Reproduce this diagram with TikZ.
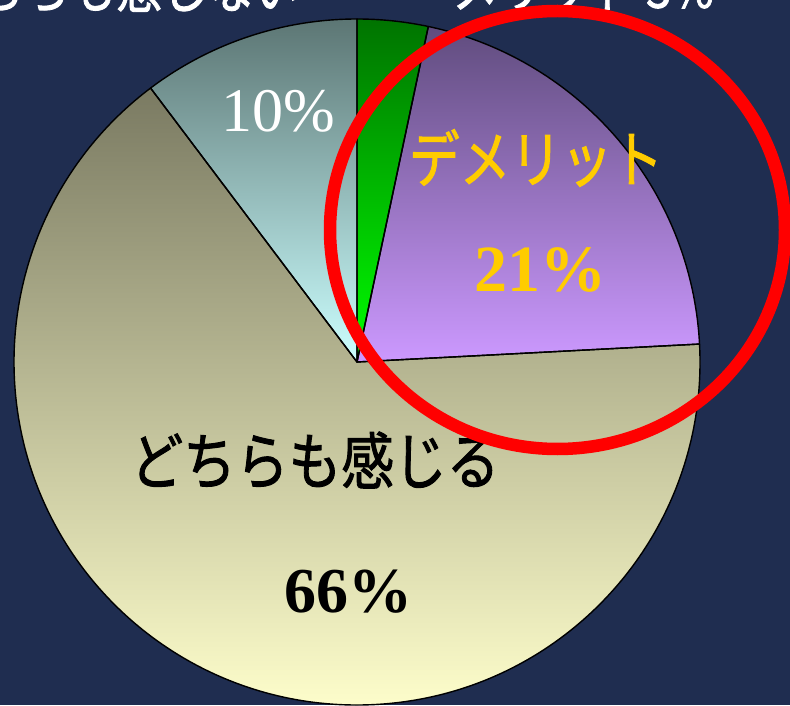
\documentclass[tikz,border=0pt]{standalone}
\usepackage{graphicx}
\usepackage{fontspec}
\setmainfont{Liberation Serif}
\newfontfamily\jp{Noto Sans CJK JP}[BoldFont={Noto Sans CJK JP}, BoldFeatures={FakeBold=1.6}]
\definecolor{bg}{RGB}{31,45,80}
\definecolor{cyanTop}{RGB}{92,118,116}
\definecolor{cyanBot}{RGB}{204,255,255}
\definecolor{greenTop}{RGB}{0,115,0}
\definecolor{greenBot}{RGB}{0,255,0}
\definecolor{purpleTop}{RGB}{96,76,126}
\definecolor{purpleBot}{RGB}{204,153,255}
\definecolor{beigeTop}{RGB}{122,122,98}
\definecolor{beigeBot}{RGB}{255,255,204}
\definecolor{gold}{RGB}{255,204,0}
\definecolor{ring}{RGB}{255,0,0}
\begin{document}
\begin{tikzpicture}[x=1pt,y=1pt,
  sliceline/.style={draw=black, line width=1.4pt, line join=round},
  jptext/.style={inner sep=0pt, font=\jp\bfseries\fontsize{62}{70}\selectfont},
  jptop/.style={inner sep=0pt, font=\jp\bfseries\fontsize{54}{60}\selectfont, text=white},
  numtext/.style={inner sep=0pt, font=\fontsize{62}{70}\selectfont},
  ringstyle/.style={draw=ring, line width=12.5pt}]
\useasboundingbox (0,0) rectangle (790,705);
\clip (0,0) rectangle (790,705);
\fill[bg] (0,0) rectangle (790,705);
\coordinate (c) at (357,343);
\def\R{343}
% slices
\fill[top color=greenTop, bottom color=greenBot]
  (c) -- ++(90:\R) arc[start angle=90, end angle=78, radius=\R] -- cycle;
\fill[top color=purpleTop, bottom color=purpleBot]
  (c) -- ++(78:\R) arc[start angle=78, end angle=3, radius=\R] -- cycle;
\fill[top color=beigeTop, bottom color=beigeBot]
  (c) -- ++(3:\R) arc[start angle=3, end angle=-233, radius=\R] -- cycle;
\fill[top color=cyanTop, bottom color=cyanBot]
  (c) -- ++(127:\R) arc[start angle=127, end angle=90, radius=\R] -- cycle;
\draw[sliceline] (c) -- ++(90:\R) arc[start angle=90, end angle=78, radius=\R] -- cycle;
\draw[sliceline] (c) -- ++(78:\R) arc[start angle=78, end angle=3, radius=\R] -- cycle;
\draw[sliceline] (c) -- ++(3:\R) arc[start angle=3, end angle=-233, radius=\R] -- cycle;
\draw[sliceline] (c) -- ++(127:\R) arc[start angle=127, end angle=90, radius=\R] -- cycle;
% labels
\node[numtext, text=white] (p10) at (278,594) {10\%};
\node[jptext, text=gold] (dem) at (536,547) {\scalebox{0.82}[1]{デメリット}};
\node[numtext, text=gold, font=\bfseries\fontsize{66}{72}\selectfont] (p21) at (540,435) {21\%};
\node[jptext, text=black] (both) at (315,245) {\scalebox{0.85}[1]{どちらも感じる}};
\node[numtext, text=black, font=\bfseries\fontsize{64}{70}\selectfont] (p66) at (348,113.5) {66\%};
% top (cut-off) label
\node[jptop, anchor=south east] (none) at (300,693) {\scalebox{0.85}[1]{どちらも感じない}};
\node[jptop, anchor=south west] (mer) at (452,693) {\scalebox{0.85}[1]{メリット 3\%}};
% red ring
\node[draw=none, inner sep=0pt, minimum size=0pt] (ringc) at (557.5,475) {};
\draw[ringstyle] (ringc.center) ellipse [x radius=227.5, y radius=219];
\end{tikzpicture}
\end{document}
